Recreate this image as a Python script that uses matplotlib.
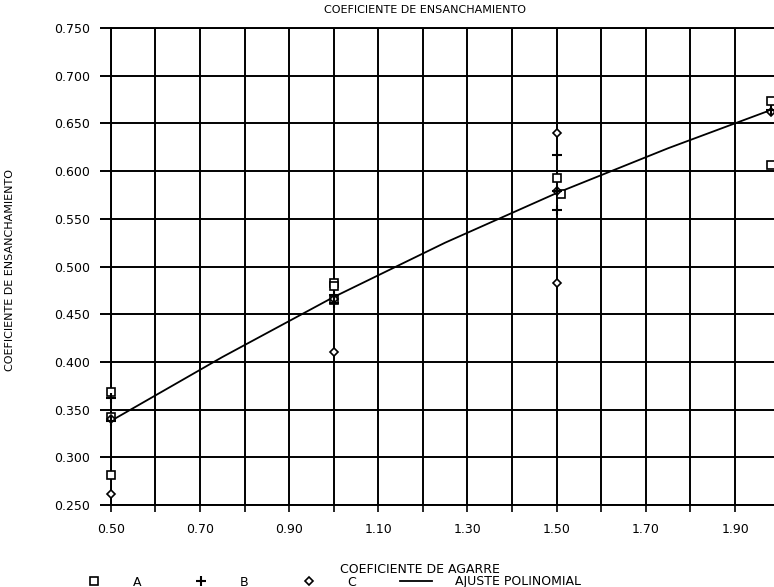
"""Coeficiente de ensanchamiento vs coeficiente de agarre (scanned plotter chart)."""
import matplotlib
matplotlib.use("Agg")
import matplotlib.pyplot as plt
from matplotlib.lines import Line2D

# series A (squares)
a_x = [0.5, 0.5, 0.5, 1.0, 1.0, 1.0, 1.5, 1.51, 1.98, 1.98]
a_y = [0.368, 0.342, 0.281, 0.483, 0.480, 0.465, 0.593, 0.576, 0.674, 0.606]
# series B (plus)
b_x = [0.5, 0.5, 1.0, 1.0, 1.5, 1.5, 1.5, 1.98]
b_y = [0.362, 0.338, 0.470, 0.462, 0.617, 0.579, 0.559, 0.664]
# series C (diamonds)
c_x = [0.5, 0.5, 1.0, 1.0, 1.5, 1.5, 1.5, 1.98]
c_y = [0.340, 0.262, 0.466, 0.410, 0.640, 0.579, 0.483, 0.662]
# polynomial fit line
fit_x = [0.5, 0.75, 1.0, 1.25, 1.5, 1.75, 1.98]
fit_y = [0.338, 0.405, 0.468, 0.525, 0.577, 0.624, 0.664]

x_ticks = [0.5, 0.6, 0.7, 0.8, 0.9, 1.0, 1.1, 1.2, 1.3, 1.4, 1.5, 1.6, 1.7, 1.8, 1.9, 2.0]
x_labels = ["0.50", "", "0.70", "", "0.90", "", "1.10", "", "1.30", "", "1.50", "", "1.70", "", "1.90", ""]
y_ticks = [0.25, 0.30, 0.35, 0.40, 0.45, 0.50, 0.55, 0.60, 0.65, 0.70, 0.75]
y_labels = ["0.250", "0.300", "0.350", "0.400", "0.450", "0.500", "0.550", "0.600", "0.650", "0.700", "0.750"]

plt.rcParams["font.family"] = ["DejaVu Sans"]

fig = plt.figure(figsize=(7.74, 5.87), dpi=100)
# right edge of the axes runs past the page, like the scan
ax = fig.add_axes([110.7 / 774, 82 / 587, 669 / 774, 477 / 587])

ax.set_xlim(0.5, 2.0)
ax.set_ylim(0.25, 0.75)
ax.set_xticks(x_ticks)
ax.set_xticklabels(x_labels, fontsize=9)
ax.set_yticks(y_ticks)
ax.set_yticklabels(y_labels, fontsize=9)
ax.tick_params(axis="y", direction="out", length=7.7, width=1.4, pad=7)
ax.tick_params(axis="x", direction="out", length=5, width=1.2, pad=8)
ax.grid(True, color="black", linewidth=1.4)
for s in ax.spines.values():
    s.set_linewidth(1.4)
ax.spines["right"].set_visible(False)

ax.plot(fit_x, fit_y, color="black", linewidth=1.3, zorder=3)
ax.plot(a_x, a_y, linestyle="none", marker="s", markersize=6, clip_on=False,
        markerfacecolor="white", markeredgecolor="black", markeredgewidth=1.2, zorder=4)
ax.plot(b_x, b_y, linestyle="none", marker="+", markersize=7, clip_on=False,
        markeredgecolor="black", markeredgewidth=1.5, zorder=5)
ax.plot(c_x, c_y, linestyle="none", marker="D", markersize=4.5, clip_on=False,
        markerfacecolor="white", markeredgecolor="black", markeredgewidth=1.2, zorder=4)

ax.text((425 - 110.7) / 669, (505 - 10) / 477, "COEFICIENTE DE ENSANCHAMIENTO",
        transform=ax.transAxes, ha="center", va="center", fontsize=8)
ax.set_xlabel("COEFICIENTE DE AGARRE", fontsize=9)
ax.xaxis.set_label_coords((420 - 110.7) / 669, (505 - 563) / 477)
ax.set_ylabel("COEFICIENTE DE ENSANCHAMIENTO", fontsize=8)
ax.yaxis.set_label_coords((15 - 110.7) / 669, (505 - 270) / 477)

handles = [
    Line2D([], [], linestyle="none", marker="s", markersize=6, markerfacecolor="white",
           markeredgecolor="black", markeredgewidth=1.2),
    Line2D([], [], linestyle="none", marker="+", markersize=7, markeredgecolor="black",
           markeredgewidth=1.5),
    Line2D([], [], linestyle="none", marker="D", markersize=4.5, markerfacecolor="white",
           markeredgecolor="black", markeredgewidth=1.2),
    Line2D([], [], color="black", linewidth=1.3),
]
fig.legend(handles, ["A", "B", "C", "AJUSTE POLINOMIAL"], loc="center left",
           bbox_to_anchor=(69 / 774, 5 / 587), ncol=4, frameon=False, fontsize=9,
           handlelength=2.6, handletextpad=1.8, columnspacing=3.5, borderpad=0.2)

fig.savefig("out.png", dpi=100)
